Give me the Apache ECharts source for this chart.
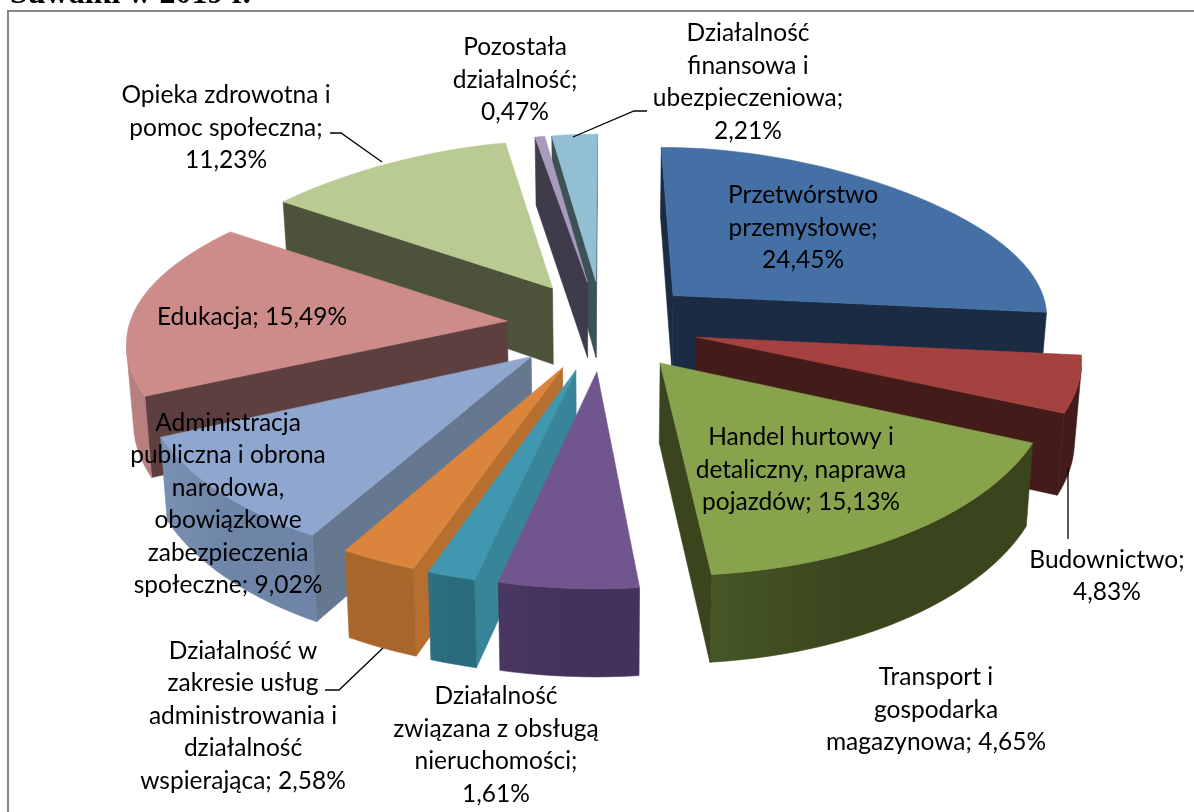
<!DOCTYPE html>
<html><head><meta charset="utf-8">
<style>html,body{margin:0;padding:0;background:#fff}#c{width:1194px;height:812px}</style>
<script src="https://cdn.jsdelivr.net/npm/echarts@6/dist/echarts.min.js"></script>
</head><body><div id="c"></div>
<script>
// ---- data ----
const categories = [
  'Przetwórstwo\nprzemysłowe;',
  'Budownictwo;',
  'Handel hurtowy i\ndetaliczny, naprawa\npojazdów;',
  'Transport i\ngospodarka\nmagazynowa;',
  'Działalność\nzwiązana z obsługą\nnieruchomości;',
  'Działalność w\nzakresie usług\nadministrowania i\ndziałalność\nwspierająca;',
  'Administracja\npubliczna i obrona\nnarodowa,\nobowiązkowe\nzabezpieczenia\nspołeczne;',
  'Edukacja;',
  'Opieka zdrowotna i\npomoc społeczna;',
  'Pozostała\ndziałalność;',
  'Działalność\nfinansowa i\nubezpieczeniowa;'
];
const shares = [24.45, 4.83, 15.13, 4.65, 1.61, 2.58, 9.02, 15.49, 11.23, 0.47, 2.21];
const valueOnNewLine = [true, true, false, false, true, false, false, false, true, true, true];

// ---- styling ----
const topColors    = ['#4570A6','#A54240','#87A34C','#71558F','#4098B0','#DB843B','#8FA6CE','#CD8C8A','#B9CB92','#A99BBD','#92BFD2'];
const outerColors  = ['#1B2B43','#431B18','#3A451E','#43325A','#2B6B7E','#A9662A','#6E85A8','#B87F7F','#4D533A','#403B4A','#3D5257'];
const outerLight   = ['#1B2B43','#431B18','#465726','#4A3862','#2F7083','#A9662A','#7A90B2','#B87F7F','#4D533A','#403B4A','#3D5257'];
const radialColors = ['#1B2B43','#431B18','#3A451E','#43325A','#38859A','#B66F2F','#66788F','#5E3F40','#4D533A','#403B4A','#3D5257'];
const FONT = 'Lato';
const FONT_SIZE = 24.5;
const LINE_H = 32.5;
// label centres in pixels, and leader polylines
const labelPlace = [[803,228],[1107,576],[801,470],[936,710],[496,745],[243,716],[228,504],[252,317],[226,128],[515,80],[748,82]];
const leaders = [null,[[1068,468],[1068,539]],null,null,null,[[325,690],[339,690],[383,648]],null,null,[[330,133],[341,133],[382,162]],null,[[647,111],[634,111],[573,137]]];

// ---- projection of the exploded, tilted pie ----
const CX = 603, CY = 325, R = 378, EXPLODE_X = 0.255, EXPLODE_Y = 0.273;
const total = shares.reduce((a, b) => a + b, 0);
function sx(Y){ return 1 + 0.115*Y - 0.0132*Y*Y + 0.019*Y*Y*Y + (Y>0 ? 0.012*Y*Y : 0); }
function proj(X, Y, bottom){
  let x = CX + R * X * sx(Y);
  let y = CY + Y * (165 + 22.5*Y + 8.4*Y*Y);
  if (bottom) { x = CX + (x - CX) * 0.985; y += 78 + 8*Y; }
  return [x, y];
}
function area(q){ let s = 0; for (let i=0;i<q.length;i++){ const a=q[i], b=q[(i+1)%q.length]; s += a[0]*b[1]-b[0]*a[1]; } return s; }
function slice(i){
  const before = shares.slice(0,i).reduce((a,b)=>a+b,0);
  const a0 = before/total*2*Math.PI, a1 = (before+shares[i])/total*2*Math.PI, am=(a0+a1)/2;
  return {a0,a1,am, ox:Math.sin(am)*EXPLODE_X, oy:-Math.cos(am)*EXPLODE_Y};
}
const order = shares.map((_,i)=>i).sort((p,q)=>(-Math.cos(slice(p).am))-(-Math.cos(slice(q).am)));

function renderItem(params, api){
  const i = params.dataIndex, sl = slice(i), rank = order.indexOf(i)*10 + 1;
  const rim = a => [sl.ox + Math.sin(a), sl.oy - Math.cos(a)];
  const pt = (p,b) => proj(p[0],p[1],b);
  const apex = [sl.ox, sl.oy];
  const n = Math.max(3, Math.ceil((sl.a1-sl.a0)/(Math.PI/90)));
  const rims = []; for (let k=0;k<=n;k++) rims.push(rim(sl.a0+(sl.a1-sl.a0)*k/n));
  const children = [];
  const addPoly = (pts,fill,z,stroke) => children.push({type:'polygon',shape:{points:pts},z2:z,
    style:{fill,stroke:stroke||fill,lineWidth:0.6}});
  // radial walls
  const q0 = [pt(apex),pt(rims[0]),pt(rims[0],1),pt(apex,1)];
  if (area(q0)<0) addPoly(q0,radialColors[i],rank);
  const q1 = [pt(rims[n]),pt(apex),pt(apex,1),pt(rims[n],1)];
  if (area(q1)<0) addPoly(q1,radialColors[i],rank);
  // outer wall: one polygon per visible run of rim segments
  let run = [];
  const flush = () => {
    if (run.length>1){
      const fill = new echarts.graphic.LinearGradient(0,0,1,0,[
        {offset:0,color:outerLight[i]},{offset:0.45,color:outerColors[i]},{offset:1,color:outerColors[i]}]);
      addPoly(run.map(p=>pt(p)).concat(run.slice().reverse().map(p=>pt(p,1))),fill,rank+1,outerColors[i]);
    }
    run=[];
  };
  for (let k=0;k<n;k++){
    const q=[pt(rims[k]),pt(rims[k+1]),pt(rims[k+1],1),pt(rims[k],1)];
    if (area(q)<0){ if(!run.length) run.push(rims[k]); run.push(rims[k+1]); } else flush();
  }
  flush();
  // top
  addPoly([pt(apex)].concat(rims.map(p=>pt(p))),topColors[i],rank+2);
  // label
  const text = categories[i] + (valueOnNewLine[i]?'\n':' ') + api.value(0).toFixed(2).replace('.',',') + '%';
  children.push({type:'text',z2:1000,style:{text,x:labelPlace[i][0],y:labelPlace[i][1],align:'center',verticalAlign:'middle',
    font:FONT_SIZE+'px '+FONT,lineHeight:LINE_H,fill:'#000'}});
  if (leaders[i]) children.push({type:'polyline',z2:1001,shape:{points:leaders[i]},style:{stroke:'#000',lineWidth:1.3,fill:null}});
  return {type:'group',children};
}

const chart = echarts.init(document.getElementById('c'),null,{renderer:'canvas'});
chart.setOption({
  animation:false,
  backgroundColor:'#fff',
  title:{text:'Suwałki w 2019 r.',left:5,top:-26,textStyle:{fontFamily:'Liberation Serif',fontWeight:'bold',fontSize:32,color:'#000'}},
  graphic:[{type:'polyline',shape:{points:[[8,812],[8,11],[1194,11]]},style:{stroke:'#868686',lineWidth:2,fill:null}}],
  series:[{type:'custom',coordinateSystem:'none',renderItem,data:shares.map(v=>[v]),encode:{value:0},silent:true}]
});
</script></body></html>
